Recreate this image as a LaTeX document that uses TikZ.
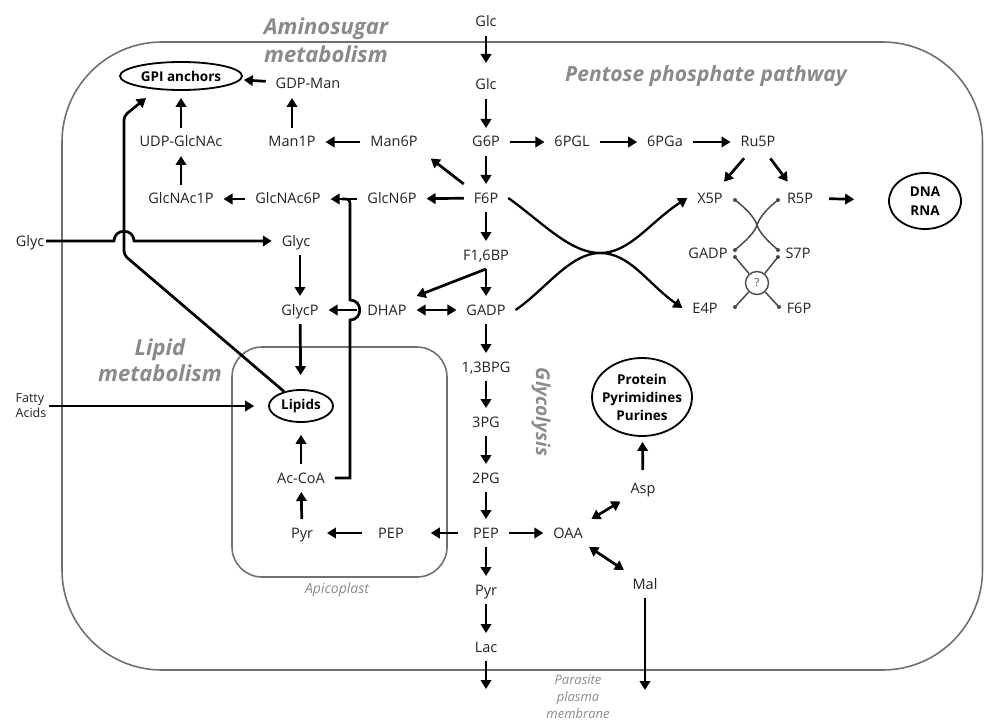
\documentclass[tikz,border=0pt]{standalone}
\usepackage{fontspec}
\setmainfont{Open Sans}
\usetikzlibrary{arrows.meta,shapes.geometric}
\definecolor{txtc}{HTML}{222222}
\definecolor{ttlc}{HTML}{8A8A8A}
\definecolor{memc}{HTML}{707070}
\definecolor{thinc}{HTML}{4A4A4A}
\begin{document}
\begin{tikzpicture}[x=1pt,y=-1pt,
  met/.style={font=\fontsize{14.5}{16}\selectfont, text=txtc, inner xsep=10pt, inner ysep=9pt, text height=10pt, text depth=0pt, outer sep=0pt},
  fa/.style={font=\fontsize{12.5}{15}\selectfont, text=txtc, align=left, inner sep=2pt},
  oval/.style={ellipse, draw=black, line width=1.8pt, inner sep=0pt},
  bld/.style={font=\fontsize{13}{18}\selectfont\bfseries, text=black, align=center, inner sep=0pt},
  ttl/.style={font=\fontsize{22}{26}\selectfont\bfseries\itshape, text=ttlc, anchor=base, inner sep=0pt},
  sml/.style={font=\fontsize{13}{17}\selectfont\itshape, text=ttlc, align=center, inner sep=0pt},
  ar/.style={line width=2.7pt, -{Triangle[length=9pt,width=10.5pt]}},
  dar/.style={line width=2.7pt, {Triangle[length=9pt,width=10.5pt]}-{Triangle[length=9pt,width=10.5pt]}},
  ln/.style={line width=2.7pt},
  memb/.style={draw=memc, line width=1.6pt},
  thn/.style={draw=thinc, line width=1.5pt},
  dotn/.style={circle, fill=thinc, inner sep=0pt, minimum size=4pt},
]
\useasboundingbox (0,0) rectangle (984,722);
% membranes
\draw[memb, rounded corners=100pt] (62,42) rectangle (982.5,670);
\draw[memb, rounded corners=30pt] (232,347) rectangle (447,577);

% titles
\node[ttl] (amino1) at (326,35) {Aminosugar};
\node[ttl] (amino2) at (326,63) {metabolism};
\node[ttl, font=\fontsize{21}{25}\selectfont\bfseries\itshape] (ppp) at (706,82) {Pentose phosphate pathway};
\node[ttl] (lip1) at (160,355) {Lipid};
\node[ttl] (lip2) at (160,381) {metabolism};
\node[ttl, anchor=center, rotate=-90, font=\fontsize{19}{21}\selectfont\bfseries\itshape] (glyT) at (541,412) {Glycolysis};
\node[sml, font=\fontsize{14}{18}\selectfont\itshape] (apiT) at (337,590) {Apicoplast};
\node[sml] (ppm) at (578,697) {Parasite\\plasma\\membrane};

% glycolysis column
\node[met] (glcA) at (486,22) {Glc};
\node[met] (glcB) at (486,85) {Glc};
\node[met] (g6p) at (486,142) {G6P};
\node[met] (f6p) at (486,198) {F6P};
\node[met] (f16bp) at (486,255) {F1,6BP};
\node[met] (gadp) at (486,310) {GADP};
\node[met] (bpg) at (486,367) {1,3BPG};
\node[met] (pg3) at (486,422) {3PG};
\node[met] (pg2) at (486,478) {2PG};
\node[met] (pep) at (486,533) {PEP};
\node[met] (pyr) at (486,590) {Pyr};
\node[met] (lac) at (486,647) {Lac};
\coordinate (lacout) at (486,689);

% pentose phosphate
\node[met] (pgl) at (572,142) {6PGL};
\node[met] (pga) at (665,142) {6PGa};
\node[met] (ru5p) at (758,142) {Ru5P};
\node[met] (x5p) at (710,198) {X5P};
\node[met] (r5p) at (800,198) {R5P};
\node[met] (gadp2) at (708,253) {GADP};
\node[met] (s7p) at (798,253) {S7P};
\node[met] (e4p) at (705,308) {E4P};
\node[met] (f6p2) at (799,308) {F6P};
\node[circle, draw=thinc, line width=1.4pt, minimum size=23pt, inner sep=0pt, font=\fontsize{11}{12}\selectfont, text=thinc] (qm) at (757,283) {?};
\node[oval, minimum width=72pt, minimum height=56pt] (dna) at (925,201) {};
\node[bld, font=\fontsize{13.5}{19}\selectfont\bfseries] (dnaT) at (dna) {DNA\\RNA};

% aminosugar / lipid side
\node[oval, minimum width=122pt, minimum height=28pt, font=\fontsize{13.5}{15}\selectfont\bfseries] (gpi) at (181,76) {GPI anchors};
\node[met] (gdpman) at (308,84) {GDP-Man};
\node[met] (udp) at (181,142) {UDP-GlcNAc};
\node[met] (man1p) at (292,142) {Man1P};
\node[met] (man6p) at (394,142) {Man6P};
\node[met] (glcnac1p) at (181,199) {GlcNAc1P};
\node[met] (glcnac6p) at (288,199) {GlcNAc6P};
\node[met] (glcn6p) at (392,199) {GlcN6P};
\node[met, inner xsep=2pt] (glycOut) at (30,241) {Glyc};
\node[met] (glycIn) at (296,241) {Glyc};
\node[met] (glycp) at (300,310) {GlycP};
\node[met] (dhap) at (387,310) {DHAP};
\node[oval, minimum width=64pt, minimum height=32pt, font=\fontsize{13.5}{15}\selectfont\bfseries] (lipids) at (301,406) {Lipids};
\node[fa] (fatty) at (31,406) {Fatty\\Acids};
\node[met] (acoa) at (301,478) {Ac-CoA};
\node[met] (pyrA) at (302,533) {Pyr};
\node[met] (pepA) at (391,533) {PEP};

% right lower
\node[met] (oaa) at (568,533) {OAA};
\node[met] (asp) at (643,488) {Asp};
\node[met] (mal) at (645,584) {Mal};
\coordinate (malout) at (645,690);
\node[oval, minimum width=100pt, minimum height=78pt] (prot) at (642,397) {};
\node[bld, font=\fontsize{13.5}{18}\selectfont\bfseries] (protT) at (prot) {Protein\\Pyrimidines\\Purines};

% glycolysis arrows
\draw[ar, shorten >=8pt] (glcA) -- (glcB);
\draw[ar] (glcB) -- (g6p);
\draw[ar] (g6p) -- (f6p);
\draw[ar] (f6p) -- (f16bp);
\draw[ar] (f16bp) -- (gadp);
\draw[ar] (gadp) -- (bpg);
\draw[ar] (bpg) -- (pg3);
\draw[ar] (pg3) -- (pg2);
\draw[ar] (pg2) -- (pep);
\draw[ar] (pep) -- (pyr);
\draw[ar] (pyr) -- (lac);
\draw[ar] (lac) -- (lacout);
\draw[ar] (f16bp.south) -- (dhap.north east);
\draw[dar] (dhap) -- (gadp);

% pentose arrows
\draw[ar] (g6p) -- (pgl);
\draw[ar] (pgl) -- (pga);
\draw[ar] (pga) -- (ru5p);
\draw[ar, shorten <=3pt, shorten >=3pt] (ru5p) -- (x5p);
\draw[ar, shorten <=3pt, shorten >=3pt] (ru5p) -- (r5p);
\draw[ar, shorten <=6pt, shorten >=34pt] (r5p) -- (dna);
\coordinate (xc) at (600,253);
\draw[ar, line width=2.3pt] (f6p.east) .. controls (542,222) and (570,253) .. (xc) .. controls (630,253) and (648,284) .. (e4p.west);
\draw[ar, line width=2.3pt] (gadp.east) .. controls (545,290) and (570,253) .. (xc) .. controls (630,253) and (650,222) .. (x5p.west);

% thin non-oxidative network
\node[dotn] (dX) at (735,200) {};
\node[dotn] (dR) at (778,200) {};
\node[dotn] (dG1) at (735,250) {};
\node[dotn] (dS1) at (778,250) {};
\node[dotn] (dG2) at (735,257) {};
\node[dotn] (dS2) at (778,257) {};
\node[dotn] (dE) at (735,307) {};
\node[dotn] (dF) at (779,307) {};
\coordinate (xc2) at (757,225);
\draw[thn] (dX.center) .. controls (744,207) and (754,216) .. (xc2) .. controls (760,234) and (769,242) .. (dS1.center);
\draw[thn] (dR.center) .. controls (769,207) and (760,216) .. (xc2) .. controls (754,234) and (744,242) .. (dG1.center);
\draw[thn] (dG2.center) -- (qm);
\draw[thn] (dS2.center) -- (qm);
\draw[thn] (qm) -- (dE.center);
\draw[thn] (qm) -- (dF.center);

% aminosugar arrows
\draw[ar, shorten >=3pt] (gdpman) -- (gpi);
\draw[ar] (man1p.north) -- (man1p.north |- gdpman.south);
\draw[ar, shorten >=7pt] (udp.north) -- (gpi.south);
\draw[ar] (man6p) -- (man1p);
\draw[ar, shorten >=4pt] (f6p.north west) -- (man6p.south east);
\draw[ar] (glcnac1p) -- (udp);
\draw[ar] (f6p) -- (glcn6p);
\draw[ar] (glcn6p) -- (glcnac6p);
\draw[ar] (glcnac6p) -- (glcnac1p);

% glycerol / lipids
\coordinate (gpitip) at (146,98);
\draw[ar, rounded corners=4pt] (lipids) -- (124,255) -- (124,116) -- (gpitip);
\draw[ar] (glycOut.east) -- (114,241) .. controls (114,228) and (134,228) .. (134,241) -- (glycIn.west);
\draw[ar] (glycp.north |- glycIn.south) -- (glycp.north);
\draw[ar] (dhap) -- (glycp);
\draw[ar, shorten >=14pt] (glycp) -- (lipids);
\draw[ar, shorten >=14pt] (fatty) -- (lipids);
\draw[ar, shorten >=12pt] (acoa) -- (lipids);
\draw[ar] (pyrA) -- (acoa);
\draw[ar, shorten <=6pt, shorten >=4pt] (pepA) -- (pyrA);
\draw[ar, shorten <=5pt, shorten >=17pt] (pep) -- (pepA);
\draw[ln] (acoa.east) -- (350,478) -- (350,320) .. controls (363,320) and (363,300) .. (350,300) -- (350,207) .. controls (350,199) .. (342,199);

% oxaloacetate branch
\draw[ar] (pep) -- (oaa);
\draw[dar] (oaa) -- (asp);
\draw[dar] (oaa) -- (mal);
\draw[ar, shorten <=4pt, shorten >=5pt] (asp) -- (prot);
\draw[ar] (mal) -- (malout);
\end{tikzpicture}
\end{document}
